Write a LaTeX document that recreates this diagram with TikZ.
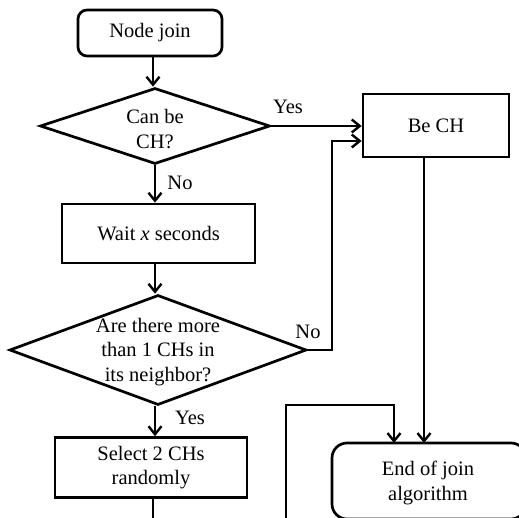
\documentclass[tikz,border=0pt]{standalone}
\usepackage{fontspec}
\setmainfont{Liberation Serif}
\usetikzlibrary{arrows.meta,shapes.geometric}
\begin{document}
\begin{tikzpicture}[x=1pt,y=-1pt,
  every node/.style={font=\fontsize{20.5}{24.5}\selectfont},
  conn/.style={line width=2.7pt},
  arr/.style={conn,-{Straight Barb[length=8pt,width=13pt,line width=2.4pt]}},
  procbox/.style={draw,line width=2.7pt,minimum width=193pt,minimum height=59pt,inner sep=0pt,align=center},
  termbox/.style={draw,line width=2.7pt,rounded corners=9pt,inner sep=0pt,align=center},
  dia/.style={draw,diamond,line width=2.7pt,inner sep=0pt},
  lbl/.style={inner sep=0pt}]
\path[use as bounding box] (0,0) rectangle (519,518);
\clip (0,0) rectangle (519,518);
% nodes
\node[termbox,minimum width=144pt,minimum height=46pt] (join) at (150,33) {Node join};
\node[dia,minimum width=230pt,minimum height=76pt] (d1) at (155,126) {};
\node[align=center,inner sep=0pt] (t1) at (155,129) {Can be\\CH?};
\node[procbox] (wait) at (158.5,233.5) {Wait \textit{x} seconds};
\node[dia,minimum width=297pt,minimum height=110pt] (d2) at (158,350) {};
\node[align=center,inner sep=0pt] (t2) at (158,352) {Are there more\\than 1 CHs in\\its neighbor?};
\node[procbox,minimum width=192pt,minimum height=60pt] (sel) at (151,467.5) {Select 2 CHs\\randomly};
\node[procbox,minimum width=146pt,minimum height=63pt] (bech) at (436,125.5) {Be CH};
\node[termbox,minimum width=194pt,minimum height=76pt,rounded corners=15pt] (endb) at (429,481) {};
\node[align=center,inner sep=0pt] (t3) at (428,483) {End of join\\algorithm};
% labels
\node[lbl] (yes1) at (288,107) {Yes};
\node[lbl] (no1) at (180,183) {No};
\node[lbl] (no2) at (308,332) {No};
\node[lbl] (yes2) at (190,418) {Yes};
% coordinates
\coordinate (c1) at (332,350);
\coordinate (c2) at (332,141);
\coordinate (c3) at (424,157);
\coordinate (c4) at (424,443);
\coordinate (c5) at (153,540);
\coordinate (c6) at (286,540);
\coordinate (c7) at (286,405);
\coordinate (c8) at (394,405);
\coordinate (c9) at (394,443);
% connectors
\draw[arr] (join.south -| 153,0) -- (d1.north -| 153,0);
\draw[arr] (d1.east) -- (d1.east -| bech.west);
\draw[arr] (d1.south -| 155,0) -- (wait.north -| 155,0);
\draw[arr] (wait.south -| 155,0) -- (d2.north -| 155,0);
\draw[arr] (d2.east) -- (c1) -- (c2) -- (c2 -| bech.west);
\draw[arr] (d2.south -| 155,0) -- (sel.north -| 155,0);
\draw[arr] (c3) -- (c4);
\draw[arr] (sel.south -| c5) -- (c5) -- (c6) -- (c7) -- (c8) -- (c9);
\end{tikzpicture}
\end{document}
